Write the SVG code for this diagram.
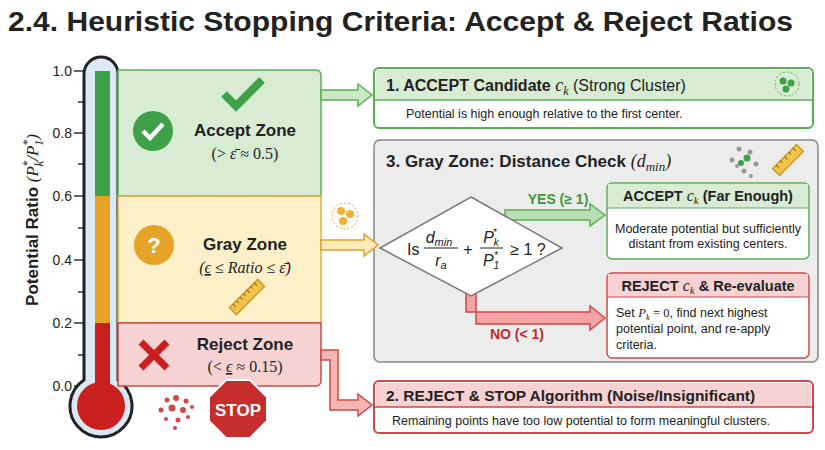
<svg xmlns="http://www.w3.org/2000/svg" width="825" height="450" viewBox="0 0 825 450">
<style>
text{font-family:"Liberation Sans",Arial,sans-serif;fill:#222}
.b{font-weight:bold}
.m{font-family:"Liberation Serif","Times New Roman",serif}
.tick{stroke:#333;stroke-width:1.5}
.lbl{font-size:14px;text-anchor:end}
.body{font-size:12.5px}
</style>
<rect width="825" height="450" fill="#fff"/>
<text x="8" y="31" class="b" font-size="27" textLength="785" lengthAdjust="spacingAndGlyphs">2.4. Heuristic Stopping Criteria: Accept &amp; Reject Ratios</text>

<g id="axis">
<text transform="translate(38,220) rotate(-90)" text-anchor="middle" font-size="17" class="b">Potential Ratio <tspan class="m" font-style="italic" font-weight="normal">(P<tspan font-size="12" dy="5">k</tspan><tspan font-size="12" dx="-6" dy="-12">*</tspan><tspan dy="7">/P</tspan><tspan font-size="12" dy="5">1</tspan><tspan font-size="12" dx="-6" dy="-12">*</tspan><tspan dy="7">)</tspan></tspan></text>
<g class="tick">
<line x1="74" y1="71" x2="83" y2="71"/><line x1="74" y1="133" x2="83" y2="133"/><line x1="74" y1="196" x2="83" y2="196"/><line x1="74" y1="260" x2="83" y2="260"/><line x1="74" y1="323" x2="83" y2="323"/><line x1="74" y1="386" x2="83" y2="386"/>
<line x1="78" y1="102" x2="83" y2="102"/><line x1="78" y1="164" x2="83" y2="164"/><line x1="78" y1="228" x2="83" y2="228"/><line x1="78" y1="292" x2="83" y2="292"/><line x1="78" y1="355" x2="83" y2="355"/>
</g>
<text x="72" y="76" class="lbl">1.0</text><text x="72" y="138" class="lbl">0.8</text><text x="72" y="201" class="lbl">0.6</text><text x="72" y="265" class="lbl">0.4</text><text x="72" y="328" class="lbl">0.2</text><text x="72" y="391" class="lbl">0.0</text>
</g>

<g id="thermometer">
<path d="M84,380 V74 A17,17 0 0 1 118,74 V380 A31,31 0 1 1 84,380 Z" fill="#dbe9f5" stroke="#222" stroke-width="3"/>
<rect x="95" y="71" width="15" height="125" fill="#3fa04a"/>
<rect x="95" y="196" width="15" height="127" fill="#e5a427"/>
<rect x="95" y="323" width="15" height="70" fill="#c91f1f"/>
<circle cx="101" cy="406" r="24" fill="#c91f1f"/>
</g>

<g id="zones">
<path d="M118,70 H316 a5,5 0 0 1 5,5 V196 H118 Z" fill="#d7ecd3" stroke="#5aae55" stroke-width="1.5"/>
<rect x="118" y="196" width="203" height="127" fill="#fdf0c8" stroke="#e0b040" stroke-width="1.5"/>
<line x1="118" y1="196" x2="321" y2="196" stroke="#e0a030" stroke-dasharray="4,3"/>
<line x1="118" y1="323" x2="321" y2="323" stroke="#e0a030" stroke-dasharray="4,3"/>
<path d="M118,323 H321 V381 a5,5 0 0 1 -5,5 H118 Z" fill="#f7d2d2" stroke="#d04848" stroke-width="1.5"/>
</g>

<g id="accept-zone">
<path d="M224,94 L236,106 L262,80" fill="none" stroke="#3fa04a" stroke-width="8"/>
<circle cx="153" cy="131" r="20" fill="#3fa04a"/>
<path d="M143,131 L150,138 L163,124" fill="none" stroke="#fff" stroke-width="4.5"/>
<text x="245" y="136" class="b" font-size="17" text-anchor="middle">Accept Zone</text>
<text x="245" y="159" class="m" font-size="16" text-anchor="middle">(&gt; <tspan font-style="italic">ε̄</tspan> ≈ 0.5)</text>
</g>

<g id="gray-zone">
<circle cx="154" cy="245" r="20" fill="#e5a427"/>
<text x="154" y="253" class="b" font-size="22" text-anchor="middle" style="fill:#fff">?</text>
<text x="245" y="250" class="b" font-size="17" text-anchor="middle">Gray Zone</text>
<text x="245" y="273" class="m" font-size="16" text-anchor="middle" font-style="italic">(<tspan text-decoration="underline">ϵ</tspan> ≤ Ratio ≤ ε̄)</text>
<g transform="translate(247,297) rotate(-45)"><rect x="-20" y="-5" width="40" height="10" fill="#f2c14e" stroke="#b8860b"/><path d="M-15,-5v4M-10,-5v3M-5,-5v4M0,-5v3M5,-5v4M10,-5v3M15,-5v4" stroke="#8a6400"/></g>
</g>

<g id="reject-zone">
<path d="M141,342 L167,368 M167,342 L141,368" stroke="#c91f1f" stroke-width="7"/>
<text x="245" y="350" class="b" font-size="17" text-anchor="middle">Reject Zone</text>
<text x="245" y="372" class="m" font-size="16" text-anchor="middle">(&lt; <tspan text-decoration="underline" font-style="italic">ϵ</tspan> ≈ 0.15)</text>
<g fill="#d04848"><circle cx="167" cy="400" r="2.5"/><circle cx="176" cy="398" r="3"/><circle cx="186" cy="401" r="2.5"/><circle cx="161" cy="410" r="2.5"/><circle cx="172" cy="408" r="3.5"/><circle cx="183" cy="410" r="3"/><circle cx="192" cy="407" r="2"/><circle cx="166" cy="419" r="2"/><circle cx="178" cy="420" r="2.5"/><circle cx="188" cy="417" r="2"/><circle cx="175" cy="428" r="2"/></g>
<polygon points="226,380 250,380 267,397 267,421 250,438 226,438 209,421 209,397" fill="#c62d2d" stroke="#fff" stroke-width="2"/>
<text x="238" y="416" class="b" font-size="17" text-anchor="middle" style="fill:#fff">STOP</text>
</g>

<g id="box1">
<rect x="374" y="68" width="439" height="60" rx="5" fill="#fff" stroke="#5aae55" stroke-width="2"/>
<path d="M376,70 H811 V100 H376 Z" fill="#d7ecd3"/>
<line x1="374" y1="100" x2="813" y2="100" stroke="#5aae55" stroke-width="1.5"/>
<text x="386" y="91" class="b" font-size="16">1. ACCEPT Candidate <tspan class="m" font-style="italic" font-weight="normal" font-size="18">c<tspan font-size="12" dy="4">k</tspan></tspan><tspan dy="-4" font-weight="normal"> (Strong Cluster)</tspan></text>
<text x="406" y="118" class="body">Potential is high enough relative to the first center.</text>
<circle cx="787" cy="84" r="12" fill="none" stroke="#5aae55" stroke-dasharray="2,2"/>
<g fill="#3fa04a"><circle cx="783" cy="81" r="3.5"/><circle cx="791" cy="83" r="3.5"/><circle cx="786" cy="89" r="3.5"/></g>
</g>

<g id="box3">
<rect x="374" y="140" width="444" height="222" rx="6" fill="#ececec" stroke="#888" stroke-width="1.5"/>
<text x="386" y="167" class="b" font-size="17">3. Gray Zone: Distance Check <tspan class="m" font-style="italic" font-weight="normal" font-size="18">(d<tspan font-size="13" dy="4">min</tspan><tspan dy="-4">)</tspan></tspan></text>
<g fill="#999"><circle cx="739" cy="149" r="2.5"/><circle cx="750" cy="152" r="2.5"/><circle cx="732" cy="160" r="2.5"/><circle cx="756" cy="164" r="2.5"/><circle cx="744" cy="171" r="2.5"/><circle cx="737" cy="166" r="2"/><circle cx="751" cy="176" r="2"/></g>
<g fill="#3fa04a"><circle cx="747" cy="158" r="3.5"/><circle cx="741" cy="163" r="3"/></g>
<g transform="translate(788,160) rotate(-45)"><rect x="-17" y="-5" width="34" height="10" fill="#f2c14e" stroke="#b8860b"/><path d="M-12,-5v4M-6,-5v3M0,-5v4M6,-5v3M12,-5v4" stroke="#8a6400"/></g>
</g>

<g id="connectors">
<polygon points="321,90 358,90 358,84 372,95 358,106 358,100 321,100" fill="#cde8c8" stroke="#5aae55" stroke-width="1.5"/>
<polygon points="321,240 364,240 364,234 378,245 364,256 364,250 321,250" fill="#fdebb8" stroke="#e0a030" stroke-width="1.5"/>
<path d="M321,350 H338 V400 H358 V394 L372,405 L358,416 V410 H330 V360 H321 Z" fill="#f5b5b5" stroke="#d04848" stroke-width="1.5"/>
<polygon points="505,210 590,210 590,204 605,215 590,226 590,220 505,220" fill="#b9e0b3" stroke="#5aae55" stroke-width="1.5"/>
<path d="M466,292 V312 H590 V306 L605,318 L590,330 V324 H476 V292 Z" fill="#f3a3a3" stroke="#d04848" stroke-width="1.5"/>
<text x="558" y="204" class="b" font-size="14" text-anchor="middle" style="fill:#3a9a3a">YES (≥ 1)</text>
<text x="517" y="339" class="b" font-size="14" text-anchor="middle" style="fill:#c62828">NO (&lt; 1)</text>
<circle cx="345" cy="216" r="13" fill="#fff" stroke="#e0a030" stroke-dasharray="2,2"/>
<g fill="#f2b230"><circle cx="341" cy="211" r="4"/><circle cx="350" cy="214" r="4"/><circle cx="343" cy="221" r="4"/></g>
</g>

<g id="decision">
<polygon points="471,197 562,248 471,296 380,248" fill="#fff" stroke="#777" stroke-width="1.5"/>
<text x="407" y="255" font-size="16">Is</text>
<g class="m" font-style="italic" font-size="16" text-anchor="middle">
<text x="439" y="243">d<tspan font-size="11" dy="3">min</tspan></text>
<line x1="424" y1="248" x2="458" y2="248" stroke="#222"/>
<text x="441" y="266">r<tspan font-size="11" dy="3">a</tspan></text>
<text x="468" y="255" font-style="normal">+</text>
<text x="491" y="243">P<tspan font-size="10" dy="3">k</tspan><tspan font-size="10" dx="-6" dy="-10">*</tspan></text>
<line x1="480" y1="248" x2="503" y2="248" stroke="#222"/>
<text x="491" y="266">P<tspan font-size="10" dy="3">1</tspan><tspan font-size="10" dx="-5" dy="-10">*</tspan></text>
<text x="528" y="255" font-style="normal">≥ 1 ?</text>
</g>
</g>

<g id="accept-far">
<rect x="607" y="183" width="202" height="76" rx="5" fill="#fff" stroke="#5aae55" stroke-width="1.5"/>
<path d="M608,184 H808 V208 H608 Z" fill="#d7ecd3"/>
<line x1="607" y1="208" x2="809" y2="208" stroke="#5aae55"/>
<text x="708" y="201" class="b" font-size="14.5" text-anchor="middle">ACCEPT <tspan class="m" font-style="italic" font-weight="normal" font-size="16">c<tspan font-size="11" dy="3">k</tspan></tspan><tspan dy="-3"> (Far Enough)</tspan></text>
<text x="708" y="233" class="body" text-anchor="middle">Moderate potential but sufficiently</text>
<text x="708" y="248" class="body" text-anchor="middle">distant from existing centers.</text>
</g>

<g id="reject-reeval">
<rect x="607" y="273" width="202" height="85" rx="5" fill="#fff" stroke="#d04848" stroke-width="1.5"/>
<path d="M608,274 H808 V297 H608 Z" fill="#f7d2d2"/>
<line x1="607" y1="297" x2="809" y2="297" stroke="#d04848"/>
<text x="708" y="291" class="b" font-size="14.5" text-anchor="middle">REJECT <tspan class="m" font-style="italic" font-weight="normal" font-size="16">c<tspan font-size="11" dy="3">k</tspan></tspan><tspan dy="-3"> &amp; Re-evaluate</tspan></text>
<text x="616" y="317" class="body">Set <tspan class="m" font-style="italic">P<tspan font-size="9" dy="3">k</tspan></tspan><tspan dy="-3" class="m"> = 0</tspan>, find next highest</text>
<text x="616" y="333" class="body">potential point, and re-apply</text>
<text x="616" y="349" class="body">criteria.</text>
</g>

<g id="box2">
<rect x="374" y="381" width="439" height="52" rx="5" fill="#fff" stroke="#d04848" stroke-width="2"/>
<path d="M376,383 H811 V407 H376 Z" fill="#f7d2d2"/>
<line x1="374" y1="407" x2="813" y2="407" stroke="#d04848" stroke-width="1.5"/>
<text x="386" y="401" class="b" font-size="15.5">2. REJECT &amp; STOP Algorithm (Noise/Insignificant)</text>
<text x="392" y="425" class="body">Remaining points have too low potential to form meaningful clusters.</text>
</g>
</svg>
